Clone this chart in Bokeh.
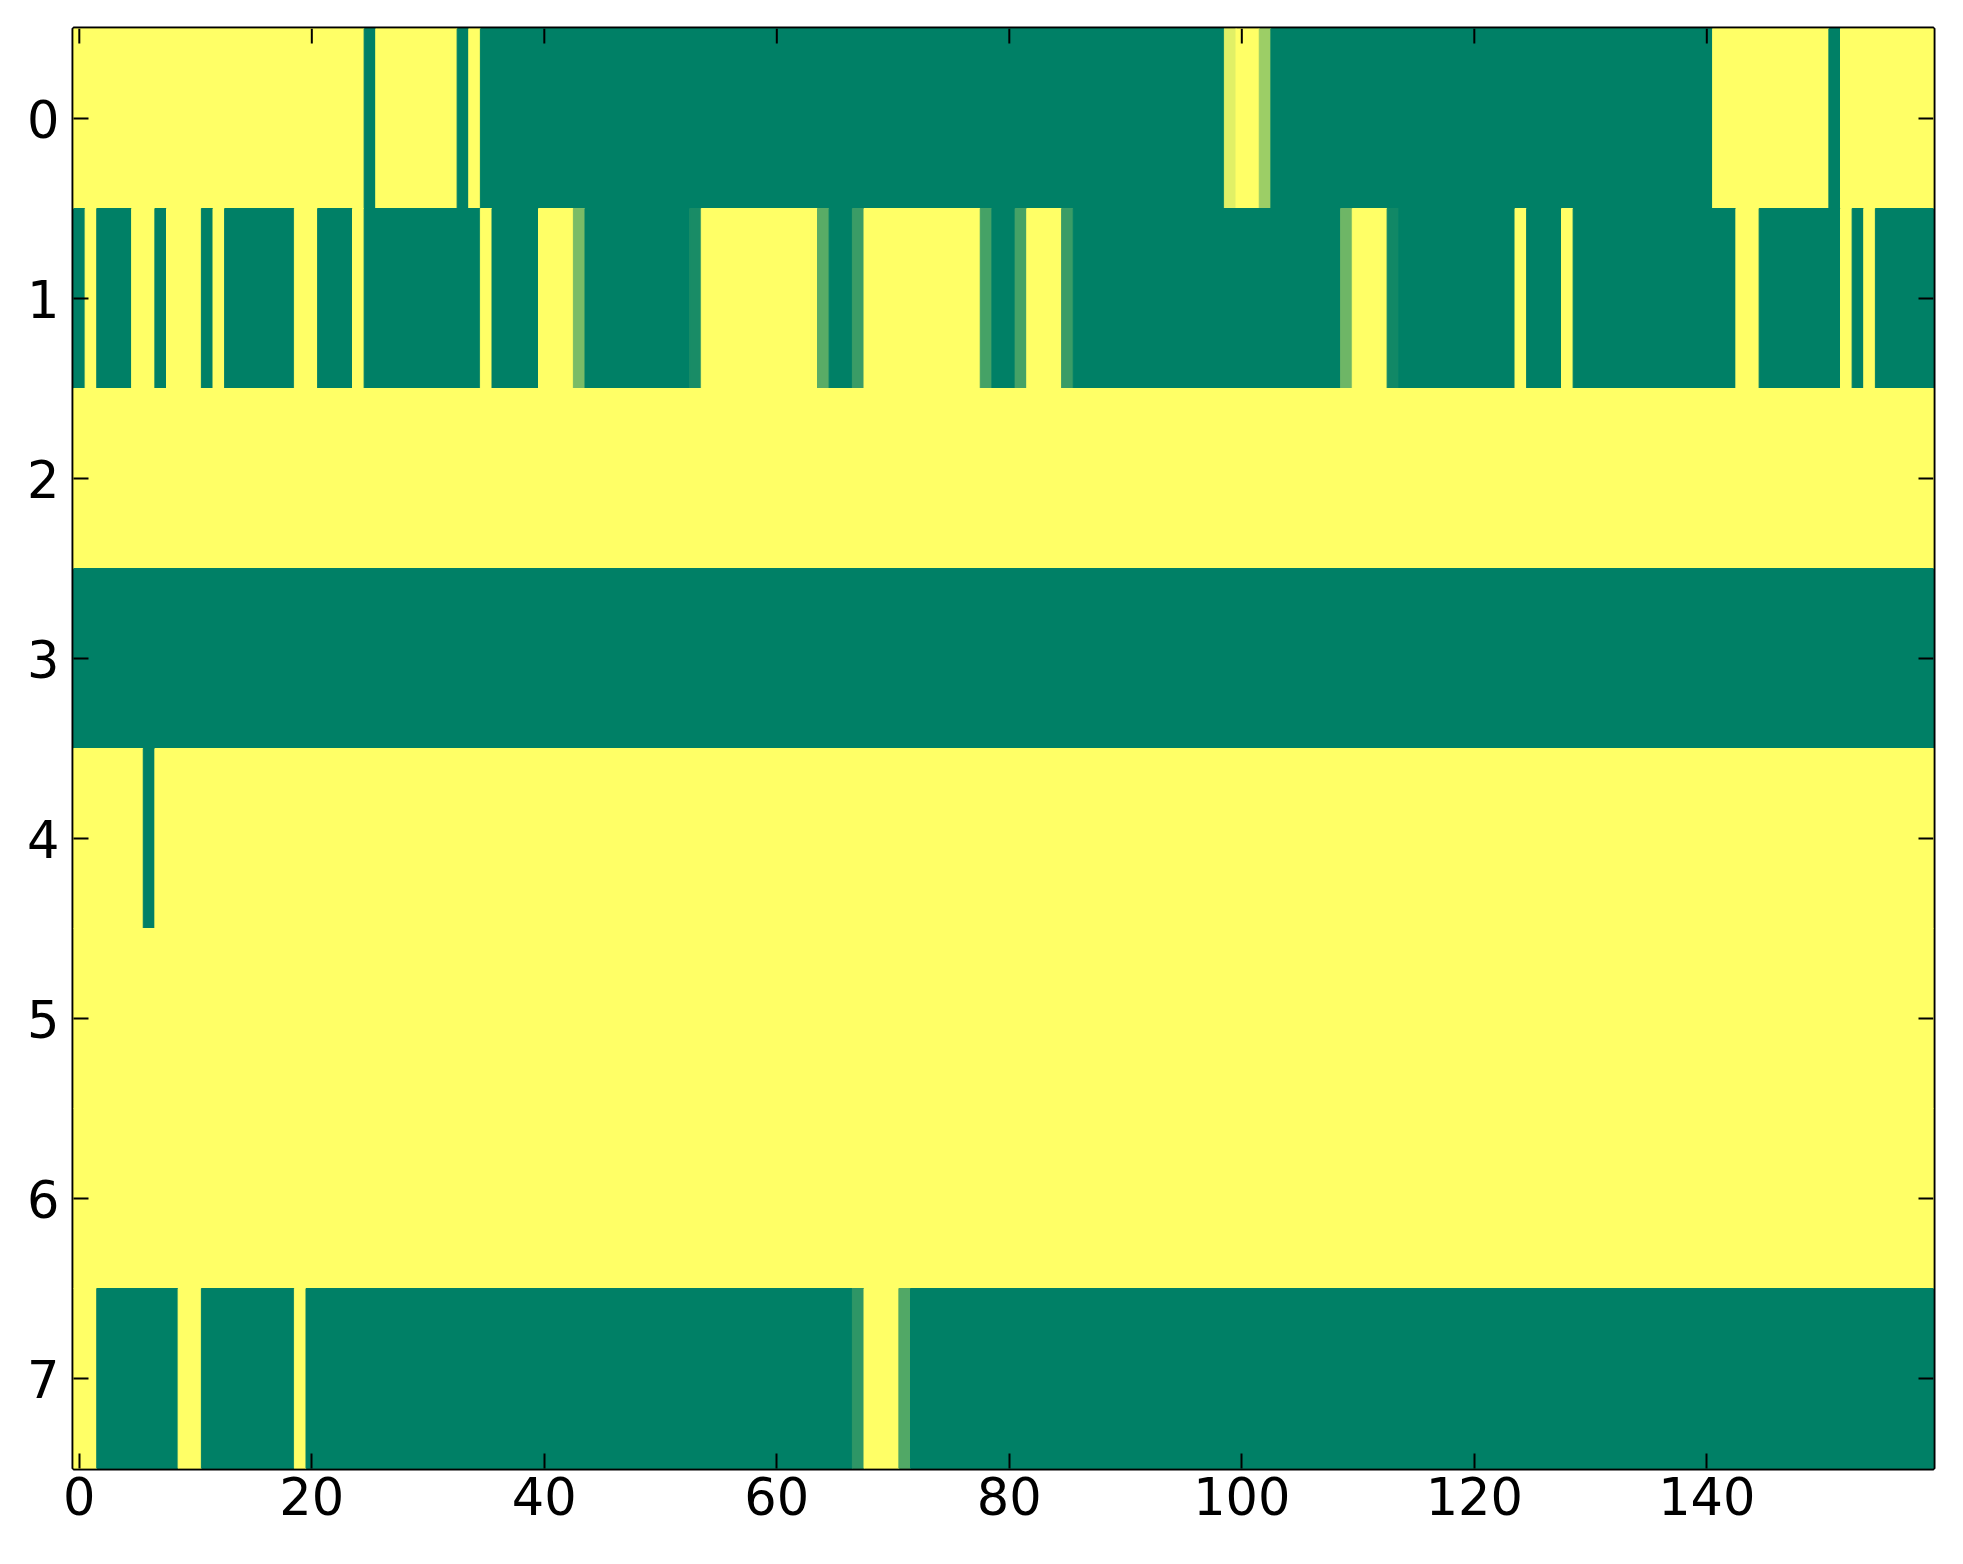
import numpy as np
from bokeh.plotting import figure
from bokeh.models import ColumnDataSource, LinearColorMapper, FixedTicker, Range1d
from bokeh.embed import file_html
from bokeh.resources import INLINE

# each row of the picture as (value, run length) pairs, 160 columns per row
row0 = [(1, 25), (0, 1), (1, 7), (0, 1), (1, 1), (0, 64), (0.88, 1), (1, 2), (0.61, 1),
        (0, 38), (1, 10), (0, 1), (1, 8)]
row1 = [(0, 1), (1, 1), (0, 3), (1, 2), (0, 1), (1, 3), (0, 1), (1, 1), (0, 6), (1, 2),
        (0, 3), (1, 1), (0, 10), (1, 1), (0, 4), (1, 3), (0.48, 1), (0, 9), (0.1, 1),
        (1, 10), (0.35, 1), (0, 2), (0.23, 1), (1, 10), (0.27, 1), (0, 2), (0.27, 1),
        (1, 3), (0.23, 1), (0, 23), (0.43, 1), (1, 3), (0.07, 1), (0, 10), (1, 1), (0, 3),
        (1, 1), (0, 14), (1, 2), (0, 7), (1, 1), (0, 1), (1, 1), (0, 5)]
row2 = [(1, 160)]
row3 = [(0, 160)]
row4 = [(1, 6), (0, 1), (1, 153)]
row5 = [(1, 160)]
row6 = [(1, 160)]
row7 = [(1, 2), (0, 7), (1, 2), (0, 8), (1, 1), (0, 47), (0.18, 1), (1, 3), (0.32, 1), (0, 88)]

rows = [row0, row1, row2, row3, row4, row5, row6, row7]
x_ticks = [0, 20, 40, 60, 80, 100, 120, 140]
y_ticks = [0, 1, 2, 3, 4, 5, 6, 7]
n_cols = 160

FW, FH = 1860, 1440   # frame size in px
TICK = 15             # inward tick length in px

# matplotlib "summer" colormap
def summer(v):
    return "#%02x%02x%02x" % (int(round(255 * v)), int(round(255 * (0.5 + 0.5 * v))), 102)

palette = [summer(i / 255.0) for i in range(256)]
mapper = LinearColorMapper(palette=palette, low=0, high=1)

left, right, top, bottom, val = [], [], [], [], []
for r, runs in enumerate(rows):
    start = 0
    for v, n in runs:
        left.append(start - 0.5)
        right.append(start + n - 0.5)
        top.append(r - 0.5)
        bottom.append(r + 0.5)
        val.append(v)
        start += n

src = ColumnDataSource(dict(left=left, right=right, top=top, bottom=bottom, val=val))

x0, x1 = -0.5, n_cols - 0.5
y0, y1 = -0.5, len(rows) - 0.5

p = figure(frame_width=FW, frame_height=FH,
           x_range=Range1d(x0, x1), y_range=Range1d(y1, y0),
           output_backend="svg", toolbar_location=None,
           min_border_left=73, min_border_right=14, min_border_top=28, min_border_bottom=80)
p.background_fill_color = "white"
p.grid.visible = False
p.outline_line_color = "black"
p.outline_line_width = 4

p.quad(left="left", right="right", top="top", bottom="bottom", source=src,
       fill_color={"field": "val", "transform": mapper},
       line_color={"field": "val", "transform": mapper}, line_width=1)

# inward ticks on the top and right edges (matplotlib classic style)
dy = TICK * (y1 - y0) / FH
dx = TICK * (x1 - x0) / FW
p.segment(x0=x_ticks, y0=[y0] * len(x_ticks), x1=x_ticks, y1=[y0 + dy] * len(x_ticks),
          line_color="black", line_width=2)
p.segment(x0=[x1] * len(y_ticks), y0=y_ticks, x1=[x1 - dx] * len(y_ticks), y1=y_ticks,
          line_color="black", line_width=2)

for ax, ticks in ((p.xaxis[0], x_ticks), (p.yaxis[0], y_ticks)):
    ax.ticker = FixedTicker(ticks=ticks)
    ax.axis_line_color = None
    ax.major_tick_in = TICK
    ax.major_tick_out = 0
    ax.major_tick_line_width = 2
    ax.major_tick_line_color = "black"
    ax.minor_tick_line_color = None
    ax.major_label_text_font = "DejaVu Sans"
    ax.major_label_text_color = "black"
    ax.major_label_text_font_size = "51px"

p.xaxis[0].major_label_standoff = 8
p.yaxis[0].major_label_standoff = 14

open("out.html", "w").write(file_html(p, INLINE))
